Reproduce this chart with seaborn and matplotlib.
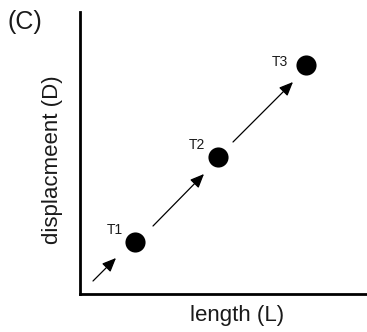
import matplotlib
matplotlib.use("Agg")
import matplotlib.pyplot as plt
import seaborn as sns
import pandas as pd

# Stage positions in the length–displacement space
stages = ["T1", "T2", "T3"]
length = [55, 138, 226]
displacement = [52, 137, 229]

# Growth arrows: start and end points
arrow_x0 = [13, 73, 153]
arrow_y0 = [13, 68, 152]
arrow_x1 = [36, 124, 213]
arrow_y1 = [36, 120, 212]

# Label offsets relative to each stage
label_dx = [-20, -21, -26]
label_dy = [12, 12, 3]

sns.set_theme(style="white")
plt.rcParams["font.family"] = ["Liberation Sans", "DejaVu Sans"]

fig = plt.figure(figsize=(3.67, 3.32), dpi=100)
ax = fig.add_axes([80 / 367, 38 / 332, 287 / 367, 282 / 332])

df = pd.DataFrame({"length": length, "displacement": displacement, "stage": stages})
sns.scatterplot(data=df, x="length", y="displacement", s=210, color="black",
                edgecolor="black", linewidth=0, ax=ax, zorder=3)

for x0, y0, x1, y1 in zip(arrow_x0, arrow_y0, arrow_x1, arrow_y1):
    ax.annotate("", xy=(x1, y1), xytext=(x0, y0),
                arrowprops=dict(arrowstyle="-|>,head_length=0.7,head_width=0.3",
                                color="black", lw=0.9, shrinkA=0, shrinkB=0))

for name, x, y, dx, dy in zip(stages, length, displacement, label_dx, label_dy):
    ax.text(x + dx, y + dy, name, ha="center", va="center", fontsize=10, color="#1a1a1a")

ax.set_xlim(0, 287)
ax.set_ylim(0, 282)
ax.set_xticks([])
ax.set_yticks([])
for side in ["top", "right"]:
    ax.spines[side].set_visible(False)
for side in ["left", "bottom"]:
    ax.spines[side].set_linewidth(2.0)
    ax.spines[side].set_color("black")

ax.set_xlabel("length (L)", fontsize=16, va="center", color="#1a1a1a")
ax.set_ylabel("displacmeent (D)", fontsize=16, va="center", color="#1a1a1a")
ax.xaxis.set_label_coords((237 - 80) / 287, (294 - 315) / 282)
ax.yaxis.set_label_coords((53 - 80) / 287, (294 - 160) / 282)

fig.text(25 / 367, 1 - 22 / 332, "(C)", fontsize=18, ha="center", va="center", color="#1a1a1a")

fig.savefig("out.png", dpi=100)
